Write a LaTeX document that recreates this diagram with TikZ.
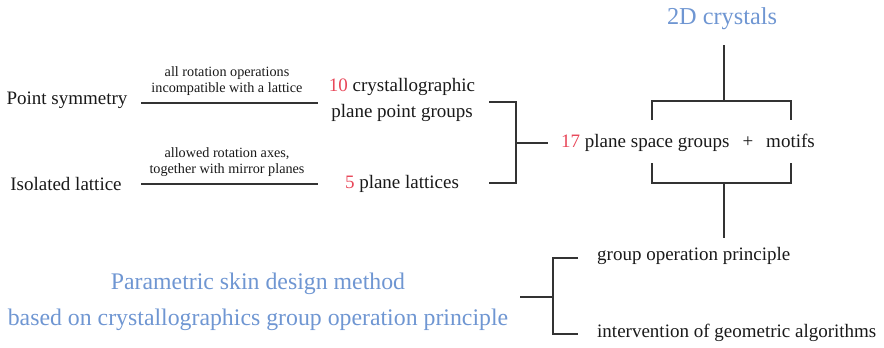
\documentclass[tikz,border=0pt]{standalone}
\usepackage{fontspec}
\setmainfont{Liberation Serif}
\definecolor{rednum}{HTML}{E8485A}
\definecolor{bluetxt}{HTML}{6F96D2}
\definecolor{linec}{HTML}{333333}
\begin{document}
\begin{tikzpicture}[x=1pt,y=-1pt,
  txt/.style={inner sep=0pt, text=black!90, font=\fontsize{19}{23}\selectfont},
  small/.style={inner sep=0pt, text=black!90, align=center, font=\fontsize{14.2}{15.5}\selectfont},
  blue/.style={inner sep=0pt, text=bluetxt, align=center, font=\fontsize{23.8}{36}\selectfont},
  conn/.style={draw=linec, line width=1.4pt}]
\useasboundingbox (0,0) rectangle (884,348);
\node[txt] (ps) at (67,100) {Point symmetry};
\node[txt] (il) at (66,184) {Isolated lattice};
\coordinate (l1a) at (141,103); \coordinate (l1b) at (318,103);
\coordinate (l2a) at (141,184); \coordinate (l2b) at (318,184);
\draw[conn] (l1a) -- (l1b);
\draw[conn] (l2a) -- (l2b);
\node[small] (lab1) at (227,81) {all rotation operations\\incompatible with a lattice};
\node[small] (lab2) at (227,162) {allowed rotation axes,\\together with mirror planes};
\node[txt, align=center, font=\fontsize{19}{26}\selectfont] (pg) at (402,100) {\textcolor{rednum}{10} crystallographic\\plane point groups};
\node[txt] (lat) at (402,184) {\textcolor{rednum}{5} plane lattices};
\coordinate (b1t) at (489,102); \coordinate (b1b) at (489,183);
\coordinate (b1m) at (516,143); \coordinate (b1s) at (548,143);
\draw[conn] (b1t) -- (516,102) -- (516,183) -- (b1b);
\draw[conn] (b1m) -- (b1s);
\node[txt] (sg) at (688,143) {\textcolor{rednum}{17} plane space groups\hspace{13pt}+\hspace{13pt}motifs};
\node[blue, font=\fontsize{24.3}{26}\selectfont] (cr) at (722,19) {2D crystals};
\coordinate (tv) at (724,45); \coordinate (tb) at (724,101);
\draw[conn] (tv) -- (tb);
\draw[conn] (652,120) -- (652,101) -- (791,101) -- (791,120);
\draw[conn] (652,163) -- (652,183) -- (791,183) -- (791,163);
\coordinate (bv) at (724,183); \coordinate (be) at (724,238);
\draw[conn] (bv) -- (be);
\node[blue] (pm) at (258,302) {Parametric skin design method\\based on crystallographics group operation principle};
\coordinate (b2t) at (578,258); \coordinate (b2b) at (578,334);
\coordinate (b2m) at (520,297); \coordinate (b2s) at (553,297);
\draw[conn] (b2t) -- (553,258) -- (553,334) -- (b2b);
\draw[conn] (b2m) -- (b2s);
\node[txt, anchor=west] (gop) at (597,256) {group operation principle};
\node[txt, anchor=west] (iga) at (597,333) {intervention of geometric algorithms};
\end{tikzpicture}
\end{document}
